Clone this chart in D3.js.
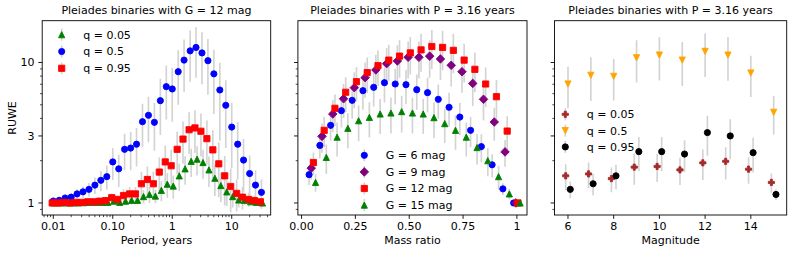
<!DOCTYPE html>
<html>
<head>
<meta charset="utf-8">
<script src="https://cdn.jsdelivr.net/npm/d3@7"></script>
<style>
  body { margin: 0; background: #fff; }
  text { font-family: "DejaVu Sans", sans-serif; font-size: 11px; fill: #000; }
</style>
</head>
<body>
<svg id="fig" width="793" height="254"></svg>
<script>
// --- data: panel 1, RUWE vs period (G = 12 mag) ---
const periods = [0.01, 0.0126, 0.0158, 0.02, 0.0251, 0.0316, 0.0398, 0.0501, 0.0631, 0.0794,
  0.1, 0.126, 0.158, 0.2, 0.251, 0.316, 0.398, 0.501, 0.631, 0.794,
  1, 1.26, 1.58, 2, 2.51, 3.16, 3.98, 5.01, 6.31, 7.94,
  10, 12.6, 15.8, 20, 25.1, 31.6];

const ruweQ005 = [1.0, 1.0, 1.0, 1.0, 1.0, 1.005, 1.01, 1.01, 1.01, 1.01,
  1.03, 1.01, 1.03, 1.045, 1.045, 1.11, 1.15, 1.12, 1.23, 1.36,
  1.32, 1.56, 1.75, 1.98, 2.05, 1.94, 1.72, 1.50, 1.33, 1.20,
  1.11, 1.05, 1.045, 1.02, 1.01, 1.0];
const errQ005 = [0.01, 0.01, 0.01, 0.01, 0.01, 0.01, 0.02, 0.02, 0.02, 0.03,
  0.04, 0.03, 0.05, 0.07, 0.07, 0.12, 0.15, 0.12, 0.2, 0.27,
  0.25, 0.35, 0.4, 0.45, 0.48, 0.45, 0.42, 0.38, 0.32, 0.25,
  0.18, 0.12, 0.08, 0.05, 0.03, 0.02];

const ruweQ05 = [1.033, 1.045, 1.085, 1.10, 1.16, 1.20, 1.25, 1.34, 1.45, 1.54,
  1.96, 1.75, 2.41, 2.46, 2.62, 3.79, 4.21, 3.75, 5.35, 6.73,
  6.48, 8.6, 10.4, 12.1, 12.8, 11.7, 10.3, 8.3, 6.37, 4.96,
  3.47, 2.62, 2.02, 1.62, 1.34, 1.19];
const errQ05 = [0.03, 0.04, 0.06, 0.07, 0.09, 0.11, 0.14, 0.18, 0.24, 0.3,
  0.5, 0.45, 0.7, 0.75, 0.8, 1.3, 1.5, 1.4, 2.3, 2.8,
  2.7, 3.6, 4.2, 4.8, 5.0, 4.7, 4.4, 4.0, 3.6, 2.5,
  1.7, 1.15, 0.83, 0.56, 0.37, 0.28];

const ruweQ095 = [1.0, 1.0, 1.01, 1.0, 1.01, 1.01, 1.02, 1.02, 1.03, 1.04,
  1.09, 1.06, 1.13, 1.16, 1.16, 1.37, 1.47, 1.37, 1.66, 1.96,
  1.84, 2.41, 2.85, 3.32, 3.42, 3.24, 2.87, 2.39, 1.90, 1.56,
  1.31, 1.17, 1.10, 1.06, 1.04, 1.02];
const errQ095 = [0.02, 0.02, 0.02, 0.02, 0.02, 0.03, 0.03, 0.03, 0.04, 0.05,
  0.08, 0.07, 0.12, 0.14, 0.14, 0.3, 0.35, 0.3, 0.45, 0.6,
  0.55, 0.8, 0.95, 1.1, 1.15, 1.1, 1.0, 0.9, 0.8, 0.6,
  0.45, 0.3, 0.2, 0.12, 0.08, 0.05];

// --- data: panel 2, RUWE vs mass ratio (P = 3.16 years) ---
const massRatios = [0.05, 0.10, 0.15, 0.20, 0.25, 0.30, 0.35, 0.40, 0.45, 0.50,
  0.55, 0.60, 0.65, 0.70, 0.75, 0.80, 0.85, 0.90, 0.95, 1.00];

const ruweG6 = [1.59, 2.57, 3.57, 4.54, 5.38, 6.30, 6.66, 7.18, 7.03, 6.95,
  6.40, 6.10, 5.47, 4.80, 4.09, 3.29, 2.52, 1.87, 1.26, 1.0];
const errG6 = [0.25, 0.5, 0.8, 1.1, 1.4, 1.7, 1.8, 2.0, 2.0, 1.9,
  1.8, 1.7, 1.5, 1.3, 1.05, 0.8, 0.57, 0.35, 0.12, 0.01];

const ruweG9 = [1.77, 2.98, 4.30, 5.52, 6.62, 7.80, 8.85, 9.81, 10.25, 10.9,
  10.9, 11.1, 10.6, 9.55, 8.6, 7.1, 5.47, 3.77, 2.31, 1.0];
const errG9 = [0.3, 0.7, 1.1, 1.5, 1.9, 2.2, 2.5, 2.8, 3.0, 3.2,
  3.2, 3.3, 3.1, 2.8, 2.5, 2.2, 1.6, 1.0, 0.5, 0.01];

const ruweG12 = [1.94, 3.29, 4.72, 6.14, 7.30, 8.47, 9.49, 10.4, 11.1, 11.7,
  12.3, 13.0, 12.8, 12.2, 10.4, 8.94, 7.03, 5.71, 3.25, 1.0];
const errG12 = [0.35, 0.8, 1.2, 1.7, 2.0, 2.4, 2.7, 3.0, 3.3, 3.5,
  3.7, 4.0, 4.0, 3.8, 3.2, 2.8, 2.2, 1.8, 0.9, 0.01];

const ruweG15 = [1.40, 2.11, 2.94, 3.40, 3.85, 4.07, 4.30, 4.37, 4.47, 4.37,
  4.30, 4.05, 3.67, 3.29, 2.94, 2.48, 2.0, 1.54, 1.16, 1.0];
const errG15 = [0.2, 0.5, 0.8, 0.95, 1.1, 1.15, 1.2, 1.25, 1.3, 1.25,
  1.2, 1.15, 1.0, 0.9, 0.8, 0.6, 0.45, 0.3, 0.1, 0.01];

// --- data: panel 3, RUWE vs magnitude (P = 3.16 years) ---
const magnitudes = [6, 7, 8, 9, 10, 11, 12, 13, 14, 15];

const ruweM005 = [1.56, 1.61, 1.49, 1.80, 1.82, 1.72, 1.93, 1.98, 1.74, 1.40];
const errM005 = [0.33, 0.33, 0.3, 0.45, 0.41, 0.38, 0.47, 0.51, 0.37, 0.22];

const ruweM05 = [7.03, 8.11, 7.97, 10.8, 11.3, 10.4, 12.0, 11.3, 8.42, 4.42];
const errM05 = [2.3, 2.8, 2.6, 3.6, 3.85, 3.6, 4.1, 3.9, 2.75, 1.35];

const ruweM095 = [1.25, 1.37, 1.56, 2.32, 2.32, 2.23, 3.17, 3.0, 2.28, 1.15];
const errM095 = [0.17, 0.24, 0.31, 0.63, 0.63, 0.57, 1.0, 0.95, 0.63, 0.1];

// --- layout ---
const svg = d3.select("#fig");
const plotTop = 20.7, plotBottom = 215;
const errColor = "#d3d3d3";
const majorLen = 3.85, minorLen = 2.2;

const y = d3.scaleLog().domain([0.821, 19.84]).range([plotBottom, plotTop]);
const yMajor = [1, 3, 10];
const yMinor = [0.9, 2, 4, 5, 6, 7, 8, 9];

function markerPath(shape) {
  const s = 6.2, h = s / 2;
  if (shape === "circle") return d3.symbol(d3.symbolCircle, Math.PI * h * h)();
  if (shape === "square") return `M${-h},${-h}h${s}v${s}h${-s}Z`;
  if (shape === "up") return `M0,${-h}L${h},${h}L${-h},${h}Z`;
  if (shape === "down") return `M0,${h}L${h},${-h}L${-h},${-h}Z`;
  if (shape === "diamond") { const d = h * 1.38; return `M0,${-d}L${d},0L0,${d}L${-d},0Z`; }
  if (shape === "plus") {
    const a = s / 6;
    return `M${-a},${-h}H${a}V${-a}H${h}V${a}H${a}V${h}H${-a}V${a}H${-h}V${-a}H${-a}Z`;
  }
}

let clipId = 0;
function drawPanel(o) {
  const x = o.x;
  const [x0, x1] = x.range();
  const g = svg.append("g");
  const id = "clip" + (clipId++);
  g.append("clipPath").attr("id", id).append("rect")
    .attr("x", x0).attr("y", plotTop).attr("width", x1 - x0).attr("height", plotBottom - plotTop);

  const plot = g.append("g").attr("clip-path", `url(#${id})`);
  const px = (s, i) => x(o.shift(o.xs[i], s.off));

  // error bars under all markers
  o.series.forEach(s => {
    plot.append("g").selectAll("line").data(s.values).join("line")
      .attr("x1", (d, i) => px(s, i)).attr("x2", (d, i) => px(s, i))
      .attr("y1", (d, i) => y(Math.max(d - s.err[i], 0.5)))
      .attr("y2", (d, i) => y(d + s.err[i]))
      .attr("stroke", errColor).attr("stroke-width", 1.65);
  });
  o.series.forEach(s => {
    plot.append("g").selectAll("path").data(s.values).join("path")
      .attr("d", markerPath(s.shape))
      .attr("transform", (d, i) => `translate(${px(s, i)},${y(d)})`)
      .attr("fill", s.color).attr("stroke", s.color).attr("stroke-width", 0.9);
  });

  // frame
  g.append("rect").attr("x", x0).attr("y", plotTop).attr("width", x1 - x0).attr("height", plotBottom - plotTop)
    .attr("fill", "none").attr("stroke", "#000").attr("stroke-width", 0.9);

  // y ticks
  yMajor.forEach(v => {
    g.append("line").attr("x1", x0).attr("x2", x0 - majorLen).attr("y1", y(v)).attr("y2", y(v))
      .attr("stroke", "#000").attr("stroke-width", 0.9);
    if (o.yLabels) g.append("text").attr("x", x0 - 7.7).attr("y", y(v)).attr("dy", "0.36em")
      .attr("text-anchor", "end").text(v);
  });
  yMinor.forEach(v => {
    g.append("line").attr("x1", x0).attr("x2", x0 - minorLen).attr("y1", y(v)).attr("y2", y(v))
      .attr("stroke", "#000").attr("stroke-width", 0.7);
  });

  // x ticks
  o.xMajor.forEach((v, i) => {
    g.append("line").attr("x1", x(v)).attr("x2", x(v)).attr("y1", plotBottom).attr("y2", plotBottom + majorLen)
      .attr("stroke", "#000").attr("stroke-width", 0.9);
    g.append("text").attr("x", x(v)).attr("y", 230).attr("text-anchor", "middle").text(o.xTickText[i]);
  });
  (o.xMinor || []).forEach(v => {
    g.append("line").attr("x1", x(v)).attr("x2", x(v)).attr("y1", plotBottom).attr("y2", plotBottom + minorLen)
      .attr("stroke", "#000").attr("stroke-width", 0.7);
  });

  // labels
  g.append("text").attr("x", (x0 + x1) / 2).attr("y", 14).attr("text-anchor", "middle").text(o.title);
  g.append("text").attr("x", (x0 + x1) / 2).attr("y", 243.5).attr("text-anchor", "middle").text(o.xLabel);

  // legend
  const lg = g.append("g");
  o.series.forEach((s, i) => {
    const ly = o.legend.y + i * o.legend.step;
    lg.append("line").attr("x1", o.legend.x).attr("x2", o.legend.x).attr("y1", ly - 6).attr("y2", ly + 6)
      .attr("stroke", errColor).attr("stroke-width", 1.65);
    lg.append("path").attr("d", markerPath(s.shape)).attr("transform", `translate(${o.legend.x},${ly})`)
      .attr("fill", s.color).attr("stroke", s.color).attr("stroke-width", 0.9);
    lg.append("text").attr("x", o.legend.x + 21.5).attr("y", ly).attr("dy", "0.36em").text(s.label);
  });
}

// panel 1
const xPeriod = d3.scaleLog().domain([0.00651, 45.2]).range([42.2, 270.7]);
const periodMajor = [0.01, 0.1, 1, 10];
drawPanel({
  x: xPeriod, xs: periods, shift: (v, k) => v * k,
  title: "Pleiades binaries with G = 12 mag", xLabel: "Period, years", yLabels: true,
  xMajor: periodMajor, xTickText: ["0.01", "0.10", "1", "10"],
  xMinor: xPeriod.ticks().filter(v => !periodMajor.some(m => Math.abs(m - v) / m < 1e-6)),
  series: [
    { label: "q = 0.05", values: ruweQ005, err: errQ005, color: "green", shape: "up", off: 1.04 },
    { label: "q = 0.5", values: ruweQ05, err: errQ05, color: "blue", shape: "circle", off: 1.0 },
    { label: "q = 0.95", values: ruweQ095, err: errQ095, color: "red", shape: "square", off: 0.96 }
  ],
  legend: { x: 61.7, y: 34.7, step: 16.8 }
});

// panel 2
drawPanel({
  x: d3.scaleLinear().domain([-0.017, 1.047]).range([297.9, 527]),
  xs: massRatios, shift: (v, k) => v + k,
  title: "Pleiades binaries with P = 3.16 years", xLabel: "Mass ratio", yLabels: false,
  xMajor: [0, 0.25, 0.5, 0.75, 1], xTickText: ["0.00", "0.25", "0.50", "0.75", "1"],
  series: [
    { label: "G = 6 mag", values: ruweG6, err: errG6, color: "blue", shape: "circle", off: -0.015 },
    { label: "G = 9 mag", values: ruweG9, err: errG9, color: "purple", shape: "diamond", off: -0.005 },
    { label: "G = 12 mag", values: ruweG12, err: errG12, color: "red", shape: "square", off: 0.005 },
    { label: "G = 15 mag", values: ruweG15, err: errG15, color: "green", shape: "up", off: 0.015 }
  ],
  legend: { x: 364.3, y: 155.3, step: 16.6 }
});

// panel 3
drawPanel({
  x: d3.scaleLinear().domain([5.41, 15.57]).range([554.5, 786.7]),
  xs: magnitudes, shift: (v, k) => v + k,
  title: "Pleiades binaries with P = 3.16 years", xLabel: "Magnitude", yLabels: false,
  xMajor: [6, 8, 10, 12, 14], xTickText: ["6", "8", "10", "12", "14"],
  series: [
    { label: "q = 0.05", values: ruweM005, err: errM005, color: "brown", shape: "plus", off: -0.1 },
    { label: "q = 0.5", values: ruweM05, err: errM05, color: "orange", shape: "down", off: 0 },
    { label: "q = 0.95", values: ruweM095, err: errM095, color: "black", shape: "circle", off: 0.1 }
  ],
  legend: { x: 565.3, y: 114.3, step: 16.3 }
});

// shared y label
svg.append("text").attr("transform", "translate(16,118) rotate(-90)").attr("text-anchor", "middle").text("RUWE");
</script>
</body>
</html>
